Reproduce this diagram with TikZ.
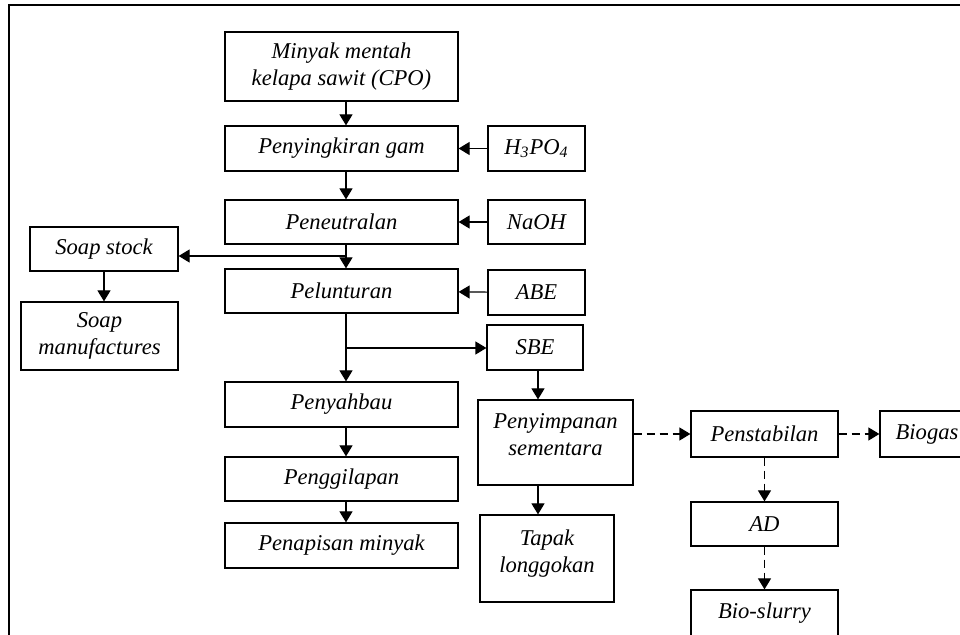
\documentclass[tikz,border=0pt]{standalone}
\usepackage{fontspec}
\setmainfont{Liberation Serif}
\usetikzlibrary{arrows.meta}

\begin{document}
\begin{tikzpicture}[x=0.5pt, y=-0.5pt,
  box/.style={draw, line width=0.6pt, align=center, inner sep=1pt, font=\itshape\fontsize{11.3}{13.5}\selectfont},
  arr/.style={-{Triangle[length=5.5pt, width=6.5pt]}, line width=0.6pt},
  dasharr/.style={arr, dash pattern=on 4pt off 2.5pt}]
  \clip (0,0) rectangle (960,635);
  % outer frame
  \draw[line width=1.2pt] (9,700) -- (9,5) -- (1000,5);

  % main refining line
  \node[box, minimum width=116.5pt, minimum height=34.5pt] (cpo) at (341.5,66.5) {Minyak mentah\\kelapa sawit (CPO)};
  \node[box, minimum width=116.5pt, minimum height=22.5pt] (gum) at (341.5,148.5) {Penyingkiran gam};
  \node[box, minimum width=116.5pt, minimum height=22pt] (neut) at (341.5,222) {Peneutralan};
  \node[box, minimum width=116.5pt, minimum height=22pt] (bleach) at (341.5,291) {Pelunturan};
  \node[box, minimum width=116.5pt, minimum height=22.5pt] (deodor) at (341.5,404.5) {Penyahbau};
  \node[box, minimum width=116.5pt, minimum height=22pt] (polish) at (341.5,479) {Penggilapan};
  \node[box, minimum width=116.5pt, minimum height=22.5pt] (filter) at (341.5,545.5) {Penapisan minyak};

  % inputs
  \node[box, minimum width=48.5pt, minimum height=22.5pt] (h3po4) at (536.5,148.5) {H\textsubscript{3}PO\textsubscript{4}};
  \node[box, minimum width=48.5pt, minimum height=22pt] (naoh) at (536.5,222) {NaOH};
  \node[box, minimum width=48.5pt, minimum height=22.5pt] (abe) at (536.5,292.5) {ABE};

  % soap side
  \node[box, minimum width=74pt, minimum height=22pt] (soap) at (104,249) {Soap stock};
  \node[box, minimum width=78.5pt, minimum height=34pt] (soapman) at (99.5,336) {Soap\\manufactures};

  % spent earth side
  \node[box, minimum width=48pt, minimum height=22.5pt] (sbe) at (535,347.5) {SBE};
  \node[box, minimum width=77.5pt, minimum height=42.5pt] (storage) at (555.5,442.5) {Penyimpanan\\sementara\\[-6pt]\mbox{}};
  \node[box, minimum width=67pt, minimum height=43.5pt] (tapak) at (547,558.5) {Tapak\\longgokan\\[-6pt]\mbox{}};
  \node[box, minimum width=73.5pt, minimum height=23pt] (stab) at (764.5,434) {Penstabilan};
  \node[box, minimum width=47pt, minimum height=23pt] (biogas) at (927,434) {Biogas};
  \node[box, minimum width=73.5pt, minimum height=22pt] (ad) at (764.5,524) {AD};
  \node[box, minimum width=73.5pt, minimum height=23pt] (slurry) at (764.5,613) {Bio-slurry};

  \coordinate (mainx) at (346,0);
  \coordinate (sidex) at (538,0);
  \coordinate (split1) at (346,256);
  \coordinate (split2) at (346,348);

  \draw[arr] (cpo.south -| mainx) -- (gum.north -| mainx);
  \draw[arr] (gum.south -| mainx) -- (neut.north -| mainx);
  \draw[arr] (neut.south -| mainx) -- (bleach.north -| mainx);
  \draw[arr] (bleach.south -| mainx) -- (deodor.north -| mainx);
  \draw[arr] (deodor.south -| mainx) -- (polish.north -| mainx);
  \draw[arr] (polish.south -| mainx) -- (filter.north -| mainx);
  \draw[arr] (h3po4) -- (gum);
  \draw[arr] (naoh) -- (neut);
  \draw[arr] (abe) -- (bleach);
  \draw[arr] (split1) -- (split1 -| soap.east);
  \draw[arr] (soap.south) -- (soap.south |- soapman.north);
  \draw[arr] (split2) -- (split2 -| sbe.west);
  \draw[arr] (sbe.south -| sidex) -- (storage.north -| sidex);
  \draw[arr] (storage.south -| sidex) -- (tapak.north -| sidex);
  \draw[dasharr] (storage.east |- stab.west) -- (stab.west);
  \draw[dasharr] (stab) -- (biogas);
  \draw[dasharr] (stab) -- (ad);
  \draw[dasharr] (ad) -- (slurry);
\end{tikzpicture}
\end{document}
